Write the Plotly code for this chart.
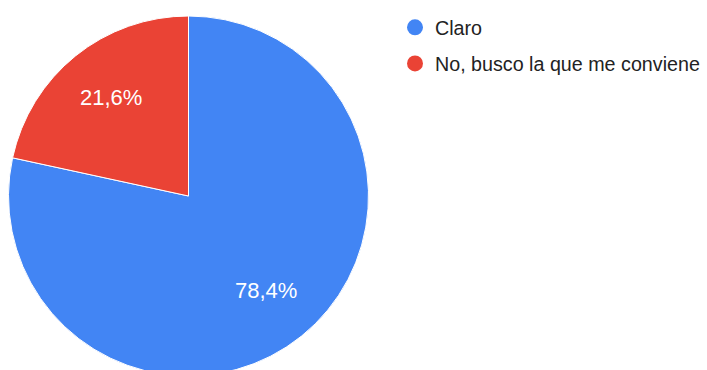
import math
import plotly.graph_objects as go

# Survey answers and their share of responses (percent)
labels = ["Claro", "No, busco la que me conviene"]
values = [78.4, 21.6]
colors = ["#4285F4", "#EA4335"]

W, H = 707, 380
cx, cy, R = 188.5, 196, 180
FONT = "Arial, Liberation Sans, sans-serif"

fig = go.Figure()

fig.add_trace(go.Pie(
    labels=labels,
    values=values,
    sort=False,
    direction="clockwise",
    rotation=0,
    marker=dict(colors=colors, line=dict(color="white", width=1)),
    textinfo="none",
    showlegend=False,
    hoverinfo="label+percent",
    domain=dict(x=[(cx - R) / W, (cx + R) / W], y=[(H - (cy + R)) / H, (H - (cy - R)) / H]),
))

# Percentage labels placed along each slice's bisector
total = sum(values)
cum = 0.0
for v in values:
    theta = math.radians(360.0 * (cum + v / 2.0) / total)
    cum += v
    px = cx + 0.69 * R * math.sin(theta)
    py = cy - 0.69 * R * math.cos(theta)
    pct = f"{100.0 * v / total:.1f}".replace(".", ",") + "%"
    fig.add_annotation(
        x=px / W, y=(H - py) / H, xref="paper", yref="paper",
        text=pct, showarrow=False, xanchor="center", yanchor="middle", yshift=2,
        font=dict(family=FONT, size=22, color="white"),
    )

# Round legend markers, one entry per answer
for i, (lab, col) in enumerate(zip(labels, colors)):
    fig.add_trace(go.Scatter(
        x=[None], y=[None], mode="markers", name=lab,
        marker=dict(symbol="circle", size=16, color=col),
        legendgroup=f"g{i}", showlegend=True, hoverinfo="skip",
    ))

fig.update_layout(
    width=W, height=H,
    margin=dict(l=0, r=0, t=0, b=0),
    paper_bgcolor="white", plot_bgcolor="white",
    font=dict(family=FONT, size=20, color="#222222"),
    xaxis=dict(visible=False), yaxis=dict(visible=False),
    legend=dict(x=395 / W, xanchor="left", y=1 - 8 / H, yanchor="top",
                tracegroupgap=7.5, itemsizing="trace", bgcolor="rgba(0,0,0,0)",
                font=dict(family=FONT, size=19.7, color="#222222")),
)

fig.write_html("out.html")
